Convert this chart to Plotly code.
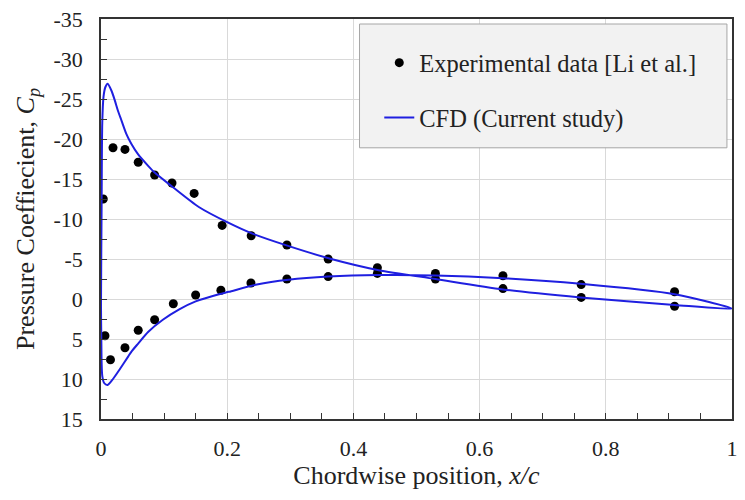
import plotly.graph_objects as go

# ---- Data ----
exp_upper_x = [0.0036, 0.019, 0.038, 0.059, 0.085, 0.1125, 0.1476, 0.192, 0.238, 0.2946, 0.36, 0.438, 0.53, 0.637, 0.761, 0.909]
exp_upper_cp = [-12.5, -18.9, -18.7, -17.1, -15.5, -14.5, -13.2, -9.2, -7.9, -6.75, -5.0, -3.9, -2.5, -1.3, -0.2, 0.9]
exp_lower_x = [0.0063, 0.015, 0.038, 0.059, 0.085, 0.1146, 0.150, 0.19, 0.2376, 0.2946, 0.36, 0.438, 0.53, 0.637, 0.761, 0.909]
exp_lower_cp = [4.6, 7.6, 6.1, 3.9, 2.6, 0.6, -0.5, -1.1, -2.0, -2.5, -2.8, -3.2, -3.2, -2.9, -1.8, -0.9]

cfd_upper_x = [0.0, 0.001, 0.002, 0.004, 0.007, 0.0105, 0.0168, 0.022, 0.027, 0.0325, 0.0403, 0.048, 0.0586,
               0.074, 0.085, 0.1135, 0.155, 0.2, 0.239, 0.294, 0.365, 0.44, 0.53, 0.637, 0.76, 0.909, 1.0]
cfd_upper_cp = [1.0, -12.0, -22.0, -25.3, -26.5, -26.9, -26.0, -24.8, -23.5, -22.3, -20.6, -19.4, -18.1,
                -16.7, -15.8, -14.0, -11.5, -9.6, -8.2, -6.7, -5.0, -3.6, -2.5, -1.2, -0.2, 0.75, 1.2]
cfd_lower_x = [0.0, 0.0005, 0.001, 0.002, 0.005, 0.0105, 0.019, 0.030, 0.043, 0.048, 0.0586, 0.075, 0.098,
               0.124, 0.150, 0.187, 0.2025, 0.247, 0.297, 0.36, 0.44, 0.53, 0.637, 0.76, 0.909, 1.0]
cfd_lower_cp = [1.0, 5.0, 8.0, 9.6, 10.5, 10.75, 10.0, 8.75, 7.2, 6.6, 5.6, 4.1, 2.6,
                1.3, 0.3, -0.6, -0.9, -1.8, -2.4, -2.8, -3.0, -2.95, -2.6, -1.9, -0.6, 1.2]

y_tickvals = [-35, -30, -25, -20, -15, -10, -5, 0, 5, 10, 15]
y_ticktext = ["-35", "-30", "-25", "-20", "-15", "-10", "-5", "0", "5", "10", "15"]
x_tickvals = [0, 0.2, 0.4, 0.6, 0.8, 1]
x_ticktext = ["0", "0.2", "0.4", "0.6", "0.8", "1"]

FONT = "Liberation Serif, Times New Roman, serif"

cfd_x = cfd_upper_x[::-1] + cfd_lower_x[1:]
cfd_cp = cfd_upper_cp[::-1] + cfd_lower_cp[1:]

fig = go.Figure()
fig.add_trace(go.Scatter(
    x=exp_upper_x + exp_lower_x, y=exp_upper_cp + exp_lower_cp,
    mode="markers", name="Experimental data [Li et al.]",
    marker=dict(color="black", size=9), legendgroup="a",
))
fig.add_trace(go.Scatter(
    x=cfd_x, y=cfd_cp, mode="lines", name="CFD (Current study)",
    line=dict(color="#1f1fe0", width=2, shape="spline", smoothing=0.7),
    legendgroup="b",
))

fig.add_shape(type="rect", xref="paper", yref="paper",
              x0=0.4097, x1=0.992, y0=0.678, y1=0.9875,
              fillcolor="#f2f2f2", line=dict(color="#a6a6a6", width=1), layer="above")

axis_common = dict(
    showline=True, linecolor="#333333", linewidth=1.5, mirror=True,
    ticks="inside", ticklen=6, tickcolor="#333333",
    showgrid=True, gridcolor="#d9d9d9", gridwidth=1, zeroline=False,
    tickfont=dict(family=FONT, size=22, color="#222222"),
)

fig.update_layout(
    width=745, height=500,
    margin=dict(l=101, r=7, t=18, b=81),
    plot_bgcolor="white", paper_bgcolor="white",
    font=dict(family=FONT, color="#222222"),
    showlegend=True,
    legend=dict(x=0.441, y=0.947, xanchor="left", yanchor="top",
                bgcolor="rgba(0,0,0,0)", borderwidth=0,
                font=dict(family=FONT, size=24.5, color="#222222"),
                traceorder="grouped", tracegroupgap=20),
    xaxis=dict(range=[0, 1], tickvals=x_tickvals, ticktext=x_ticktext,
               minor=dict(dtick=0.05, ticks="inside", ticklen=6, tickcolor="#333333", showgrid=False),
               ticklabelstandoff=9,
               title=dict(text="Chordwise position, <i>x/c</i>", standoff=3,
                          font=dict(family=FONT, size=26, color="#222222")),
               **axis_common),
    yaxis=dict(range=[15, -35], tickvals=y_tickvals, ticktext=y_ticktext,
               minor=dict(dtick=2.5, ticks="inside", ticklen=6, tickcolor="#333333", showgrid=False),
               ticklabelstandoff=12,
               title=dict(text="Pressure Coeffiecient, <i>C<sub>p</sub></i>", standoff=11,
                          font=dict(family=FONT, size=26, color="#222222")),
               **axis_common),
)

fig.write_html("out.html")
